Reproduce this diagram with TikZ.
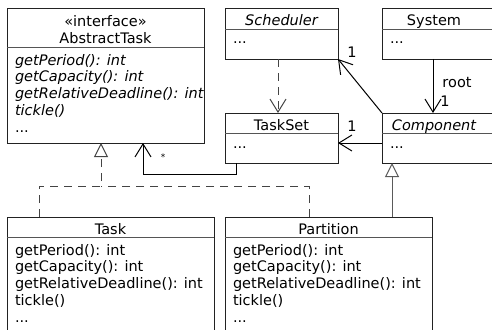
\documentclass[tikz,border=0pt]{standalone}
\usepackage{fontspec}
\setmainfont{DejaVu Sans}
\usetikzlibrary{arrows.meta}
\definecolor{boxline}{HTML}{222222}
\definecolor{sepline}{HTML}{555555}
\definecolor{gengray}{HTML}{5A5A5A}
\definecolor{dashgray}{HTML}{444444}
\newcommand\umlfont{\fontsize{14.5}{16.7}\selectfont}
\begin{document}
\begin{tikzpicture}[x=1pt,y=-1pt,
  every node/.style={inner sep=0pt, outer sep=0pt, font=\umlfont},
  cls/.style={draw=boxline, line width=0.9pt, fill=white, anchor=north west, rectangle},
  sepr/.style={draw=sepline, line width=0.9pt},
  ttl/.style={anchor=base},
  mem/.style={anchor=base west},
  lbl/.style={anchor=base},
  assoc/.style={draw=black, line width=1pt, -{Straight Barb[length=13pt,width=16pt]}},
  dep/.style={assoc, draw=dashgray, dash pattern=on 8pt off 6pt},
  gen/.style={draw=gengray, line width=1pt, -{Triangle[open,length=14pt,width=14pt,fill=white]}},
  realz/.style={gen, draw=dashgray, dash pattern=on 8pt off 6pt},
]
\useasboundingbox (0,0) rectangle (492,329);
\clip (0,0) rectangle (492,329);

% ---- class boxes ----
\node[cls, minimum width=197, minimum height=135] (abs)   at (7,8) {};
\node[cls, minimum width=113, minimum height=51]  (sched) at (225,8) {};
\node[cls, minimum width=130, minimum height=51]  (sys)   at (382,8) {};
\node[cls, minimum width=113, minimum height=50]  (tset)  at (225,113) {};
\node[cls, minimum width=130, minimum height=50]  (comp)  at (382,113) {};
\node[cls, minimum width=207, minimum height=130] (task)  at (7,217) {};
\node[cls, minimum width=207, minimum height=130] (part)  at (225,217) {};

% ---- compartment separators ----
\draw[sepr] (7,47) -- (204,47);
\draw[sepr] (225,29) -- (338,29);
\draw[sepr] (382,29) -- (512,29);
\draw[sepr] (225,133) -- (338,133);
\draw[sepr] (382,133) -- (512,133);
\draw[sepr] (7,237) -- (214,237);
\draw[sepr] (225,237) -- (432,237);

% ---- AbstractTask ----
\node[ttl] (absst) at (105.5,27) {«interface»};
\node[ttl] (absnm) at (105.5,43.5) {AbstractTask};
\node[mem] (absm1) at (15,65)    {\itshape getPeriod(): int};
\node[mem] (absm2) at (15,81.7)  {\itshape getCapacity(): int};
\node[mem] (absm3) at (15,98.4)  {\itshape getRelativeDeadline(): int};
\node[mem] (absm4) at (15,115.1) {\itshape tickle()};
\node[mem] (absm5) at (15,132.5) {...};

% ---- Scheduler / System ----
\node[ttl] (schednm) at (281.5,26) {\itshape Scheduler};
\node[mem] (schedm)  at (233,44) {...};
\node[ttl] (sysnm)   at (434,26) {System};
\node[mem] (sysm)    at (390,44) {...};

% ---- TaskSet / Component ----
\node[ttl] (tsetnm) at (281.5,130) {TaskSet};
\node[mem] (tsetm)  at (233,148) {...};
\node[ttl] (compnm) at (434,130) {\itshape Component};
\node[mem] (compm)  at (390,148) {...};

% ---- Task ----
\node[ttl] (tasknm) at (110.5,234) {Task};
\node[mem] (taskm1) at (15,255)   {getPeriod(): int};
\node[mem] (taskm2) at (15,271.7) {getCapacity(): int};
\node[mem] (taskm3) at (15,288.4) {getRelativeDeadline(): int};
\node[mem] (taskm4) at (15,305.1) {tickle()};
\node[mem] (taskm5) at (15,322.5) {...};

% ---- Partition ----
\node[ttl] (partnm) at (328.5,234) {Partition};
\node[mem] (partm1) at (233,255)   {getPeriod(): int};
\node[mem] (partm2) at (233,271.7) {getCapacity(): int};
\node[mem] (partm3) at (233,288.4) {getRelativeDeadline(): int};
\node[mem] (partm4) at (233,305.1) {tickle()};
\node[mem] (partm5) at (233,322.5) {...};

% ---- relationships ----
\coordinate (rj)  at (101,186);
\coordinate (agg) at (143,174);

% Scheduler uses TaskSet
\draw[dep] ([xshift=-3.5pt]sched.south) -- ([xshift=-3.5pt]tset.north);
% Component -> Scheduler
\draw[assoc] (comp.north west) -- (sched.south east);
\node[lbl] (m1) at (352,57) {1};
% System -> Component (root)
\draw[assoc] ([xshift=51pt]sys.south west) -- ([xshift=51pt]comp.north west);
\node[lbl] (rootlbl) at (457,87.3) {root};
\node[lbl] (m2) at (445,106) {1};
% Component -> TaskSet
\draw[assoc] ([yshift=-5pt]comp.west) -- ([yshift=-5pt]tset.east);
\node[lbl] (m3) at (352,131) {1};
% TaskSet -> AbstractTask (many)
\draw[assoc] ([xshift=11pt]tset.south west) |- (agg) -- (agg |- abs.south);
\node[lbl, font=\fontsize{9}{10}\selectfont] (m4) at (163,160) {*};
% Task and Partition realize AbstractTask
\draw[realz] ([xshift=32pt]task.north west) |- (rj) -- (rj |- abs.south);
\draw[draw=dashgray, line width=1pt, dash pattern=on 8pt off 6pt]
  ([xshift=84pt]part.north west) |- (rj);
% Partition specializes Component
\draw[gen] ([xshift=167pt]part.north west) -- ([xshift=10pt]comp.south west);
\end{tikzpicture}
\end{document}
